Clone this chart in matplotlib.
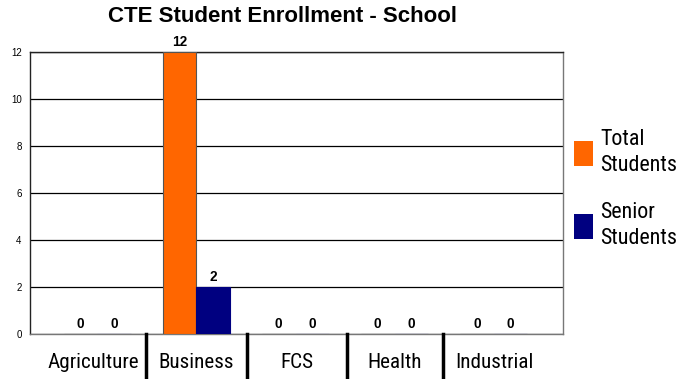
import matplotlib
matplotlib.use("Agg")
import matplotlib.pyplot as plt
from matplotlib.patches import Rectangle
import numpy as np
from matplotlib import font_manager

categories = ["Agriculture", "Business", "FCS", "Health", "Industrial"]
total_students = [0, 12, 0, 0, 0]
senior_students = [0, 2, 0, 0, 0]
series_names = ["Total\nStudents", "Senior\nStudents"]
yticks = [0, 2, 4, 6, 8, 10, 12]

names = {f.name for f in font_manager.fontManager.ttflist}
narrow = None
for cand in ["Liberation Sans Narrow", "Arial Narrow", "Roboto Condensed",
             "Open Sans Condensed", "Noto Sans Condensed"]:
    if cand in names:
        narrow = cand
        break

fig = plt.figure(figsize=(6.95, 3.79), dpi=100)
ax = fig.add_axes([30/695, 1-334/379, (563-30)/695, (334-52)/379])

x = np.arange(len(categories))
w = 0.34
c1, c2 = "#FF6600", "#000080"
ax.bar(x - w/2, total_students, w, color=c1, edgecolor="#555555", linewidth=0.8, zorder=3)
ax.bar(x + w/2, senior_students, w, color=c2, edgecolor=c2, linewidth=0.8, zorder=3)

for xs, vals in [(x - w/2, total_students), (x + w/2, senior_students)]:
    for xi, v in zip(xs, vals):
        ax.annotate(str(v), (xi, v), xytext=(0, 2.2), textcoords="offset points",
                    ha="center", va="bottom", fontsize=9.8, fontweight="bold",
                    family="Liberation Sans", zorder=4)

ax.set_xlim(-0.68, 4.70)
ax.set_ylim(0, 12)
ax.set_yticks(yticks)
ax.set_yticklabels([str(t) for t in yticks], fontsize=7, family="Liberation Sans")
ax.tick_params(axis="y", length=0, pad=6)
ax.set_xticks([])
ax.grid(axis="y", color="black", linewidth=0.9, zorder=1)
for side, s in ax.spines.items():
    s.set_color("#222222" if side in ("left", "top") else "#777777")
    s.set_linewidth(1.0)

if narrow:
    cfam, csize, cweight = narrow, 15.2, "normal"
    lfam, lsize, lsp = narrow, 15.8, 1.32
else:
    cfam, csize, cweight = "Liberation Sans", 13.4, "normal"
    lfam, lsize, lsp = "Liberation Sans", 13.6, 1.38

# category label table below the axes
label_x = [93, 196, 297, 395, 494]
sep_x = [146, 247, 347, 443]
for lx, cat in zip(label_x, categories):
    fig.text(lx/695, 1 - 361/379, cat, ha="center", va="center_baseline",
             fontsize=csize, family=cfam, fontweight=cweight)
for sx in sep_x:
    fig.add_artist(plt.Line2D([sx/695, sx/695], [0, 1 - 334/379], transform=fig.transFigure,
                              color="black", linewidth=2.5))

fig.text(282/695, 1 - 17/379, "CTE Student Enrollment - School", ha="center",
         va="center", fontsize=16, fontweight="bold", family="Liberation Sans")

# legend
for (col, name, yc) in [(c1, series_names[0], 153.5), (c2, series_names[1], 226.5)]:
    fig.add_artist(Rectangle((574/695, 1 - (yc + 12.5)/379), 19/695, 25/379,
                             transform=fig.transFigure, facecolor=col, edgecolor="none"))
    fig.text(600/695, 1 - (yc - 1)/379, name, ha="left", va="center", fontsize=lsize,
             family=lfam, linespacing=lsp)

fig.savefig("out.png", dpi=100)
